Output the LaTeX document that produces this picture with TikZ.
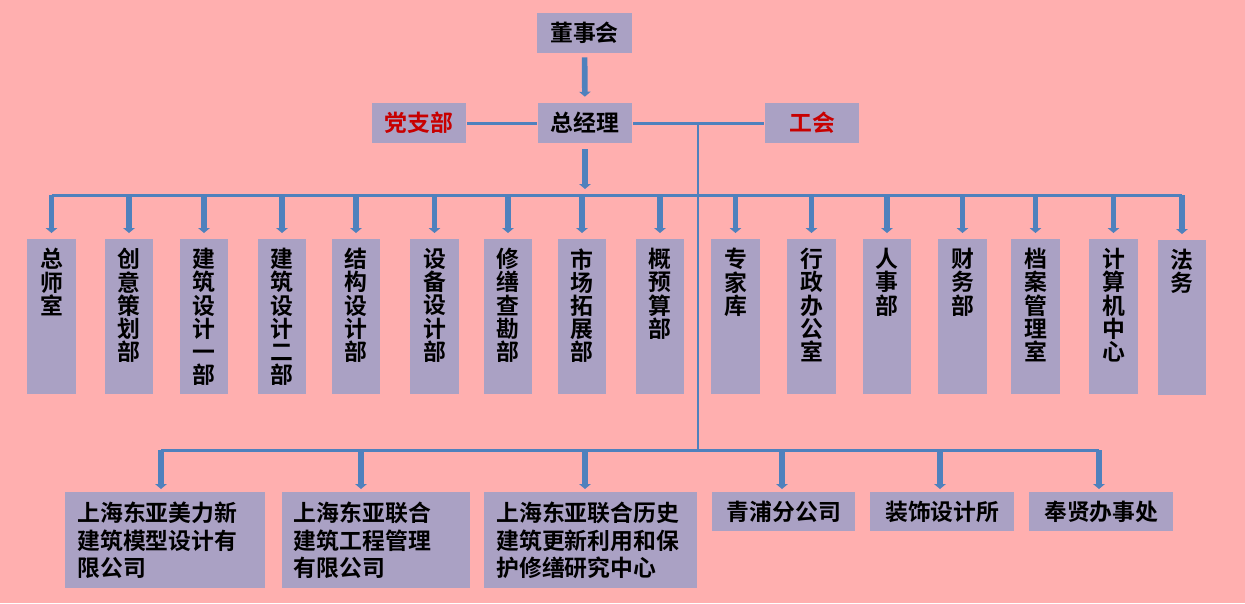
\documentclass[tikz,border=0pt]{standalone}
\usepackage{fontspec}
\setmainfont{Noto Sans CJK SC}[BoldFont={Noto Sans CJK SC Bold}]
\usepackage{tikz}
\usetikzlibrary{arrows.meta}
\usetikzlibrary{positioning}

\definecolor{bgpink}{RGB}{255,175,175}
\definecolor{boxlilac}{RGB}{170,161,196}
\definecolor{lineblue}{RGB}{79,129,189}
\definecolor{partyred}{RGB}{200,0,0}

\newcommand{\vcol}[1]{\parbox[t][2.74cm][t]{1.2em}{\centering\fontsize{13pt}{13.2pt}\selectfont #1}}

\begin{document}
\begin{tikzpicture}[x=0.02cm, y=-0.02cm,
        every node/.style={font=\fontsize{13pt}{15.6pt}\selectfont\bfseries},
        box/.style={rectangle, fill=boxlilac, inner sep=0pt, minimum width=1.9cm, minimum height=0.8cm},
        dept/.style={rectangle, fill=boxlilac, anchor=north, inner sep=0pt, minimum width=0.97cm, minimum height=3.1cm},
        firm/.style={rectangle, fill=boxlilac, anchor=north west, inner xsep=0.24cm, inner ysep=0.1cm, align=left, minimum height=1.92cm},
        link/.style={lineblue, line width=1.7pt},
        arr/.style={lineblue, line width=3.2pt, shorten >=0.12cm, -{Triangle[width=6.5pt,length=2.8pt]}}]
        \fill[bgpink] (0,0) rectangle (1245,603);
        \useasboundingbox (0,0) rectangle (1245,603);

        % top
        \node[box] (dsh) at (584.5,33) {董事会};
        \node[box] (zjl) at (585,123) {总经理};
        \node[box, text=partyred] (dzb) at (419,123) {党支部};
        \node[box, text=partyred] (gh) at (812,123) {工会};

        % departments
        \node[dept] (d1) at (51.5,239) {\vcol{总\\师\\室}};
        \node[dept] (d2) at (129,239) {\vcol{创\\意\\策\\划\\部}};
        \node[dept] (d3) at (204,239) {\vcol{建\\筑\\设\\计\\一\\部}};
        \node[dept] (d4) at (282,239) {\vcol{建\\筑\\设\\计\\二\\部}};
        \node[dept] (d5) at (356,239) {\vcol{结\\构\\设\\计\\部}};
        \node[dept] (d6) at (434.5,239) {\vcol{设\\备\\设\\计\\部}};
        \node[dept] (d7) at (508,239) {\vcol{修\\缮\\查\\勘\\部}};
        \node[dept] (d8) at (582,239) {\vcol{市\\场\\拓\\展\\部}};
        \node[dept] (d9) at (660,239) {\vcol{概\\预\\算\\部}};
        \node[dept] (d10) at (735.5,239) {\vcol{专\\家\\库}};
        \node[dept] (d11) at (811.5,239) {\vcol{行\\政\\办\\公\\室}};
        \node[dept] (d12) at (887,239) {\vcol{人\\事\\部}};
        \node[dept] (d13) at (962.5,239) {\vcol{财\\务\\部}};
        \node[dept] (d14) at (1035.5,239) {\vcol{档\\案\\管\\理\\室}};
        \node[dept] (d15) at (1113.5,239) {\vcol{计\\算\\机\\中\\心}};
        \node[dept] (d16) at (1182,240) {\vcol{法\\务}};

        % subsidiaries
        \node[firm, text width=3.52cm] (b1) at (65,492) {上海东亚美力新\\建筑模型设计有\\限公司};
        \node[firm, text width=3.28cm] (b2) at (281.5,492) {上海东亚联合\\建筑工程管理\\有限公司};
        \node[firm, text width=3.77cm] (b3) at (484,492) {上海东亚联合历史\\建筑更新利用和保\\护修缮研究中心};
        \node[box, anchor=north west, minimum width=2.86cm, minimum height=0.78cm] (b4) at (712,492) {青浦分公司};
        \node[box, anchor=north west, minimum width=2.88cm, minimum height=0.78cm] (b5) at (870,492) {装饰设计所};
        \node[box, anchor=north west, minimum width=2.88cm, minimum height=0.78cm] (b6) at (1029,492) {奉贤办事处};

        \coordinate (bus) at (0,195);
        \coordinate (trunk) at (698,450);
        \coordinate (f1) at (161,450);
        \coordinate (f2) at (361,450);
        \coordinate (f3) at (585,450);
        \coordinate (f4) at (782,450);
        \coordinate (f5) at (940,450);
        \coordinate (f6) at (1099,450);

        % lines
        \draw[link] (dzb) -- (zjl);
        \draw[link] (zjl) -- (gh);
        \draw[link] (trunk |- zjl) -- (trunk);
        \draw[link] (d1.north |- bus) -- (d16.north |- bus);
        \draw[link] (f1) -- (f6);
        \draw[arr, shorten <=0.08cm] (dsh) -- (zjl);
        \draw[arr, shorten <=0.12cm] (zjl) -- (zjl |- bus);

        \draw[arr] (d1.north |- bus) -- (d1.north);
        \draw[arr] (d2.north |- bus) -- (d2.north);
        \draw[arr] (d3.north |- bus) -- (d3.north);
        \draw[arr] (d4.north |- bus) -- (d4.north);
        \draw[arr] (d5.north |- bus) -- (d5.north);
        \draw[arr] (d6.north |- bus) -- (d6.north);
        \draw[arr] (d7.north |- bus) -- (d7.north);
        \draw[arr] (d8.north |- bus) -- (d8.north);
        \draw[arr] (d9.north |- bus) -- (d9.north);
        \draw[arr] (d10.north |- bus) -- (d10.north);
        \draw[arr] (d11.north |- bus) -- (d11.north);
        \draw[arr] (d12.north |- bus) -- (d12.north);
        \draw[arr] (d13.north |- bus) -- (d13.north);
        \draw[arr] (d14.north |- bus) -- (d14.north);
        \draw[arr] (d15.north |- bus) -- (d15.north);
        \draw[arr] (d16.north |- bus) -- (d16.north);

        \draw[arr, shorten >=0.06cm] (f1) -- (f1 |- b1.north);
        \draw[arr, shorten >=0.06cm] (f2) -- (f2 |- b2.north);
        \draw[arr, shorten >=0.06cm] (f3) -- (f3 |- b3.north);
        \draw[arr, shorten >=0.06cm] (f4) -- (f4 |- b4.north);
        \draw[arr, shorten >=0.06cm] (f5) -- (f5 |- b5.north);
        \draw[arr, shorten >=0.06cm] (f6) -- (f6 |- b6.north);
    \end{tikzpicture}
\end{document}
